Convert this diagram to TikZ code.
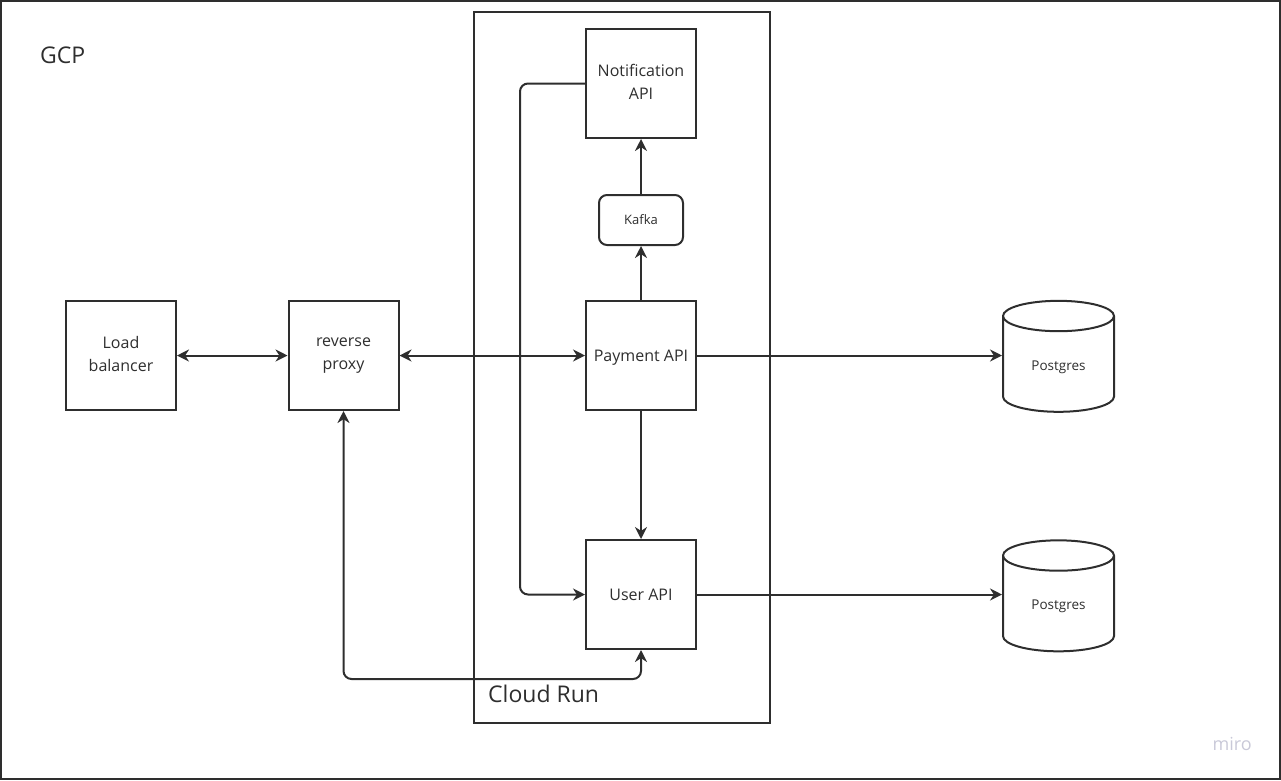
\documentclass[tikz,border=0pt]{standalone}
\usepackage{fontspec}
\setmainfont{Open Sans}
\usetikzlibrary{arrows.meta,shapes.geometric}

\definecolor{ink}{HTML}{2E2E2E}
\definecolor{mirogray}{HTML}{C9C9D8}

\tikzset{
    svc/.style={draw=ink, line width=2pt, minimum width=110pt, minimum height=109pt,
        align=center, text=ink, font=\fontsize{16}{23}\selectfont, inner sep=0pt,
        execute at begin node=\rule{0pt}{16pt}, execute at end node=\rule[-4pt]{0pt}{0pt}},
    queue/.style={draw=ink, line width=2pt, rounded corners=8pt, minimum width=84pt,
        minimum height=50pt, text=ink, font=\fontsize{13}{15}\selectfont},
    db/.style={draw=ink, line width=2pt, cylinder, shape border rotate=90, aspect=0.5,
        minimum width=111pt, minimum height=111pt, text=ink, font=\fontsize{13.5}{15}\selectfont},
    link/.style={draw=ink, line width=2pt, -{Stealth[length=12pt,width=12pt]}},
    dlink/.style={link, {Stealth[length=12pt,width=12pt]}-{Stealth[length=12pt,width=12pt]}},
}

\begin{document}
\begin{tikzpicture}[x=1pt, y=-1pt]
    \useasboundingbox (0, 0) rectangle (1281, 780);
    % frame of the GCP project
    \draw[ink, line width=2pt] (1, 1) rectangle (1280, 779);
    \node[anchor=west, text=ink, font=\fontsize{23}{26}\selectfont, inner sep=0pt] (gcp) at (40, 55) {GCP};

    % Cloud Run area
    \draw[ink, line width=2pt] (474, 12) rectangle (770, 723);
    \node[anchor=west, text=ink, font=\fontsize{23}{26}\selectfont, inner sep=0pt] (cloudrun) at (488, 694) {Cloud Run};

    \node[svc] (lb) at (121, 355.5) {Load\\balancer};
    \node[svc] (proxy) at (343.5, 355.5) {reverse\\proxy};
    \node[svc] (notify) at (641, 83.5) {Notification\\API};
    \node[queue] (kafka) at (641, 220) {Kafka};
    \node[svc] (payment) at (641, 355.5) {Payment API};
    \node[svc] (user) at (641, 594.5) {User API};
    \node[db] (pg1) at (1058.5, 367) {Postgres};
    \node[db] (pg2) at (1058.5, 606.5) {Postgres};

    %% horizontal flow
    \draw[dlink] (lb) -- (proxy);
    \draw[dlink] (proxy) -- (payment);
    \draw[link] (payment.east) -- (pg1.west |- payment.east);
    \draw[link] (user.east) -- (pg2.west |- user.east);

    %% events
    \draw[link] (payment) -- (kafka);
    \draw[link] (kafka) -- (notify);
    \draw[link] (payment) -- (user);

    %% loops
    \draw[link, rounded corners=8pt] (notify.west) -- (520, 83.5) -- (520, 594.5) -- (user.west);
    \draw[dlink, rounded corners=8pt] (proxy.south) -- (343.5, 679) -- (641, 679) -- (user.south);

    \node[anchor=east, text=mirogray, font=\fontsize{18}{20}\selectfont, inner sep=0pt] (miro) at (1252, 744) {miro};
\end{tikzpicture}
\end{document}
